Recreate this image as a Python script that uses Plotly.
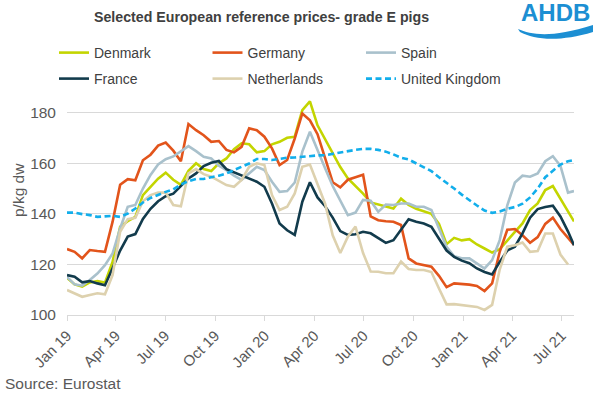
import plotly.graph_objects as go
from datetime import date, timedelta

# ---------------- data (p/kg dw, fortnightly readings) ----------------
start = date(2019, 1, 1)
dates = [(start + timedelta(days=14 * k)).isoformat() for k in range(67)] + ["2021-07-24"]

denmark = [114.7, 112.1, 111.2, 112.9, 113.4, 112.8, 121.0, 134.9, 137.1, 138.8,
           147.4, 150.7, 153.9, 156.3, 153.5, 151.5, 157.0, 160.0, 157.7, 156.9,
           160.0, 161.9, 165.6, 167.9, 167.5, 164.3, 164.8, 167.5, 168.5, 170.1,
           170.5, 181.0, 184.5, 175.0, 169.5, 164.0, 158.5, 154.0, 151.0, 148.0,
           144.5, 143.7, 142.8, 142.1, 146.0, 143.5, 142.0, 141.0, 140.0, 136.0,
           128.0, 130.5, 129.5, 130.0, 127.9, 126.3, 124.7, 126.0, 129.6, 132.9,
           136.2, 141.5, 144.1, 149.4, 151.0, 146.0, 141.0, 137.0]

germany = [126.1, 125.0, 122.4, 125.7, 125.3, 125.0, 136.8, 151.5, 153.7, 153.3,
           161.2, 163.4, 167.0, 168.2, 165.0, 160.8, 175.5, 173.1, 171.1, 168.5,
           168.8, 165.3, 164.3, 166.5, 173.8, 173.1, 170.5, 165.9, 159.3, 161.3,
           169.8, 179.7, 177.0, 171.5, 162.0, 152.5, 150.5, 153.5, 154.5, 155.5,
           139.0, 137.5, 137.1, 136.9, 135.6, 122.4, 120.4, 119.7, 119.1, 115.5,
           111.0, 112.5, 112.3, 112.0, 111.5, 109.5, 112.5, 125.0, 133.7, 134.0,
           131.5, 128.6, 130.8, 136.0, 138.5, 134.0, 130.5, 127.7]

spain = [115.1, 112.1, 111.6, 113.8, 116.4, 119.7, 124.3, 134.2, 142.8, 143.5,
         150.0, 155.4, 159.5, 161.6, 162.7, 164.6, 166.8, 164.8, 162.6, 161.9,
         159.0, 157.3, 155.1, 153.4, 156.0, 158.6, 157.3, 152.7, 148.7, 149.0,
         152.4, 164.6, 172.5, 165.0, 158.0, 151.0, 145.0, 139.5, 140.5, 145.5,
         145.2, 140.8, 143.7, 143.5, 144.1, 144.1, 142.8, 142.8, 141.5, 134.0,
         127.0, 123.2, 122.4, 122.4, 120.4, 118.4, 121.7, 129.6, 143.4, 152.4,
         155.1, 154.7, 156.0, 160.8, 162.8, 159.0, 148.4, 149.0]

france = [115.8, 115.1, 112.9, 113.4, 112.5, 111.8, 118.5, 125.5, 131.0, 132.0,
          138.0, 142.0, 145.0, 147.0, 148.0, 151.0, 154.0, 156.0, 158.9, 160.2,
          160.9, 157.7, 156.4, 155.1, 154.0, 152.7, 150.7, 144.1, 136.2, 133.5,
          131.7, 144.8, 152.5, 146.5, 143.0, 138.5, 133.2, 131.7, 131.9, 132.9,
          132.3, 130.3, 128.5, 129.6, 134.0, 137.9, 136.9, 136.2, 134.9, 130.0,
          125.5, 123.0, 121.5, 120.5, 118.4, 117.0, 116.0, 121.0, 125.5, 127.0,
          132.3, 138.5, 141.9, 142.7, 143.2, 139.0, 133.0, 127.6]

netherlands = [109.9, 108.6, 107.2, 107.9, 108.6, 108.2, 115.8, 132.9, 137.9, 138.4,
               145.0, 147.4, 148.4, 148.4, 143.5, 143.0, 156.0, 157.7, 155.7, 154.7,
               153.0, 151.4, 150.7, 153.4, 158.6, 160.0, 159.3, 147.4, 141.5, 142.8,
               148.1, 158.6, 159.5, 152.0, 144.0, 131.5, 124.5, 131.0, 135.0, 124.5,
               117.2, 117.1, 116.5, 116.5, 121.1, 118.2, 117.8, 117.8, 117.0, 110.5,
               104.2, 104.3, 103.9, 103.6, 103.2, 102.0, 104.0, 118.0, 127.0, 127.6,
               128.7, 125.0, 125.3, 132.2, 132.2, 123.9, 120.0, None]

uk = [140.5, 140.5, 139.9, 139.5, 138.8, 138.9, 139.2, 138.8, 140.1, 142.1,
      144.5, 146.3, 147.6, 148.7, 149.7, 151.6, 152.9, 153.8, 153.8, 154.3,
      155.1, 156.0, 157.3, 158.6, 159.9, 161.7, 161.7, 161.3, 161.9, 162.2,
      162.3, 162.6, 162.8, 163.1, 163.2, 163.8, 164.4, 164.7, 165.3, 165.7,
      165.7, 165.3, 164.6, 163.5, 162.2, 161.5, 159.9, 158.4, 156.9, 154.5,
      152.4, 150.0, 147.6, 145.3, 143.3, 141.3, 140.4, 140.9, 142.0, 142.7,
      144.0, 146.5, 150.0, 154.5, 157.0, 159.5, 160.8, 161.3]

tick_dates = ["2019-01-01", "2019-04-01", "2019-07-01", "2019-10-01",
              "2020-01-01", "2020-04-01", "2020-07-01", "2020-10-01",
              "2021-01-01", "2021-04-01", "2021-07-01"]
tick_labels = ["Jan 19", "Apr 19", "Jul 19", "Oct 19", "Jan 20", "Apr 20",
               "Jul 20", "Oct 20", "Jan 21", "Apr 21", "Jul 21"]
y_ticks = [100, 120, 140, 160, 180]

# ---------------- layout helpers ----------------
W, H = 594, 395
ML, MR, MT, MB = 67, 20, 95, 80
PW, PH = W - ML - MR, H - MT - MB


def px(x):
    return (x - ML) / PW


def py(y):
    return (H - MB - y) / PH


FONT = "Liberation Sans, Arial, sans-serif"

series = [
    ("Denmark", denmark, "#C3D500", "solid", "legend"),
    ("Germany", germany, "#E2541B", "solid", "legend"),
    ("Spain", spain, "#A9C1CC", "solid", "legend"),
    ("France", france, "#123B4C", "solid", "legend2"),
    ("Netherlands", netherlands, "#DDD1AE", "solid", "legend2"),
    ("United Kingdom", uk, "#12AEEB", "6px,3.5px", "legend2"),
]

fig = go.Figure()
for name, vals, color, dash, leg in series:
    fig.add_trace(go.Scatter(
        x=dates, y=vals, name=name, mode="lines",
        line=dict(color=color, width=2.6, dash=dash),
        legend=leg, connectgaps=False,
    ))

legend_common = dict(
    orientation="h", xanchor="left", yanchor="top",
    entrywidth=108.5, entrywidthmode="pixels",
    font=dict(family=FONT, size=14, color="#404040"),
    bgcolor="rgba(0,0,0,0)", itemclick=False, itemdoubleclick=False,
)

fig.update_layout(
    width=W, height=H,
    margin=dict(l=ML, r=MR, t=MT, b=MB),
    paper_bgcolor="white", plot_bgcolor="white",
    font=dict(family=FONT, color="#595959"),
    legend=dict(x=px(54), y=py(37), **legend_common),
    legend2=dict(x=px(54), y=py(63), **legend_common),
    xaxis=dict(
        type="date", range=["2019-01-01", "2021-07-24"],
        tickvals=tick_dates, ticktext=tick_labels, tickangle=-45,
        ticks="outside", ticklen=5, tickcolor="#D9D9D9", tickwidth=1,
        showline=True, linecolor="#D9D9D9", linewidth=1,
        showgrid=False, zeroline=False,
        tickfont=dict(family=FONT, size=15, color="#595959"),
    ),
    yaxis=dict(
        range=[100, 187], tickvals=y_ticks,
        showgrid=True, gridcolor="#D9D9D9", gridwidth=1,
        zeroline=False, showline=False, ticks="",
        ticklabelstandoff=10,
        tickfont=dict(family=FONT, size=15.5, color="#595959"),
    ),
    showlegend=True,
)

annotations = [
    dict(text="<b>Selected European reference prices- grade E pigs</b>",
         x=px(261), y=py(17), xanchor="center", yanchor="middle",
         font=dict(family=FONT, size=14.2, color="#404040")),
    dict(text="p/kg dw", textangle=-90,
         x=px(18), y=py(190), xanchor="center", yanchor="middle",
         font=dict(family=FONT, size=15.5, color="#595959")),
    dict(text="Source: Eurostat",
         x=px(3), y=py(383), xanchor="left", yanchor="middle",
         font=dict(family=FONT, size=15.5, color="#595959")),
    dict(text="<b>AHDB</b>",
         x=px(555), y=py(13), xanchor="center", yanchor="middle",
         font=dict(family=FONT, size=24, color="#1C8FD3")),
]
for a in annotations:
    a.update(xref="paper", yref="paper", showarrow=False)
fig.update_layout(annotations=annotations)

swoosh = (f"M {px(518)},{py(29)} "
          f"C {px(532)},{py(35)} {px(552)},{py(38)} {px(593)},{py(25)} "
          f"L {px(593)},{py(32)} "
          f"C {px(560)},{py(42)} {px(535)},{py(40)} {px(520)},{py(32)} Z")
fig.add_shape(type="path", path=swoosh, xref="paper", yref="paper",
              fillcolor="#1C8FD3", line=dict(width=0))

fig.write_html("out.html")
